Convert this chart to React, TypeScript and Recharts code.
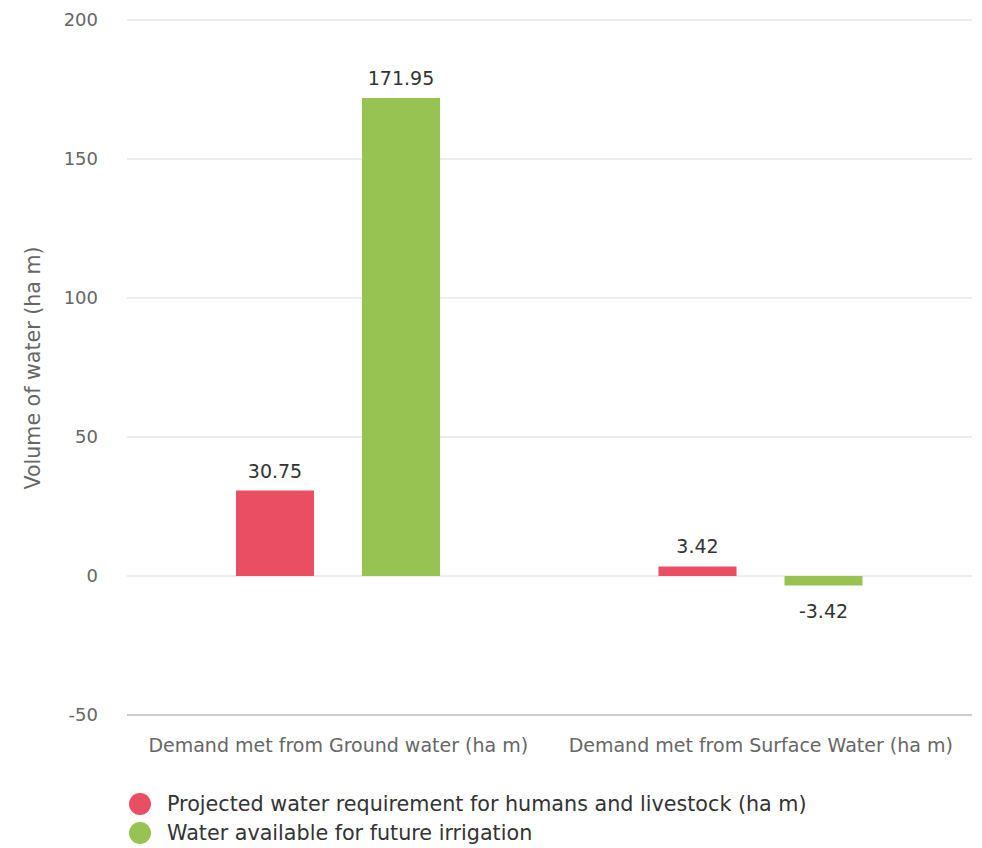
import React from 'react';
import { BarChart, Bar, XAxis, YAxis, CartesianGrid, Legend, LabelList } from 'recharts';

const categories = ['Demand met from Ground water (ha m)', 'Demand met from Surface Water (ha m)'];
const requirementValues = [30.75, 3.42];
const irrigationValues = [171.95, -3.42];
const yTicks = [-50, 0, 50, 100, 150, 200];
const seriesNames = ['Projected water requirement for humans and livestock (ha m)', 'Water available for future irrigation'];
const yAxisTitle = 'Volume of water (ha m)';

const RED = '#ea4e62';
const GREEN = '#97c352';
const FONT = '"DejaVu Sans", "Liberation Sans", Arial, sans-serif';

const data = categories.map((c, i) => ({
  name: c,
  requirement: requirementValues[i],
  irrigation: irrigationValues[i],
}));

const LegendContent = () => (
  <div style={{ height: 93, paddingTop: 34, boxSizing: 'border-box', paddingLeft: 128, fontFamily: FONT, textAlign: 'left' }}>
    {seriesNames.map((n, i) => (
      <div key={n} style={{ display: 'flex', alignItems: 'center', height: 29 }}>
        <span style={{ display: 'inline-block', width: 22, height: 22, borderRadius: 11, background: i === 0 ? RED : GREEN, marginRight: 16, flex: 'none' }} />
        <span style={{ fontSize: 20.7, color: '#333', whiteSpace: 'nowrap' }}>{n}</span>
      </div>
    ))}
  </div>
);

const ValueLabel = (props: any) => {
  const { x, y, width, height, value } = props;
  const v = Number(value);
  const cx = Number(x) + Number(width) / 2;
  const h = Number(height);
  const top = Math.min(Number(y), Number(y) + h);
  const bottom = Math.max(Number(y), Number(y) + h);
  if (v >= 0) {
    return (
      <text x={cx} y={top - 13} textAnchor="middle" fill="#333" fontSize={19} fontFamily={FONT}>
        {value}
      </text>
    );
  }
  return (
    <text x={cx} y={bottom + 17} dy="0.8em" textAnchor="middle" fill="#333" fontSize={19} fontFamily={FONT}>
      {value}
    </text>
  );
};

export default function App() {
  return (
    <div style={{ position: 'absolute', left: 0, top: 0, width: 982, height: 848, background: '#fff' }}>
      <BarChart
        width={982}
        height={848}
        data={data}
        margin={{ top: 20, right: 10, left: 1, bottom: 0 }}
        barSize={78}
        barGap={48}
      >
        <CartesianGrid vertical={false} stroke="#e6e6e6" strokeWidth={1.5} />
        <XAxis
          dataKey="name"
          height={40}
          tickSize={0}
          tickMargin={24}
          axisLine={{ stroke: '#cccccc', strokeWidth: 2 }}
          tickLine={false}
          tick={{ fill: '#666', fontSize: 19, fontFamily: FONT }}
          interval={0}
        />
        <YAxis
          width={126}
          domain={[-50, 200]}
          ticks={yTicks}
          tickSize={0}
          tickMargin={29}
          axisLine={false}
          tickLine={false}
          tick={{ fill: '#666', fontSize: 18, fontFamily: FONT }}
          label={{
            content: () => (
              <text
                x={33}
                y={368}
                transform="rotate(-90 33 368)"
                textAnchor="middle"
                dominantBaseline="central"
                fill="#666"
                fontSize={20.6}
                fontFamily={FONT}
              >
                {yAxisTitle}
              </text>
            ),
          }}
        />
        <Legend verticalAlign="bottom" align="left" layout="horizontal" content={<LegendContent />} />
        <Bar dataKey="requirement" name={seriesNames[0]} fill={RED} isAnimationActive={false}>
          <LabelList dataKey="requirement" content={ValueLabel} />
        </Bar>
        <Bar dataKey="irrigation" name={seriesNames[1]} fill={GREEN} isAnimationActive={false}>
          <LabelList dataKey="irrigation" content={ValueLabel} />
        </Bar>
      </BarChart>
    </div>
  );
}
